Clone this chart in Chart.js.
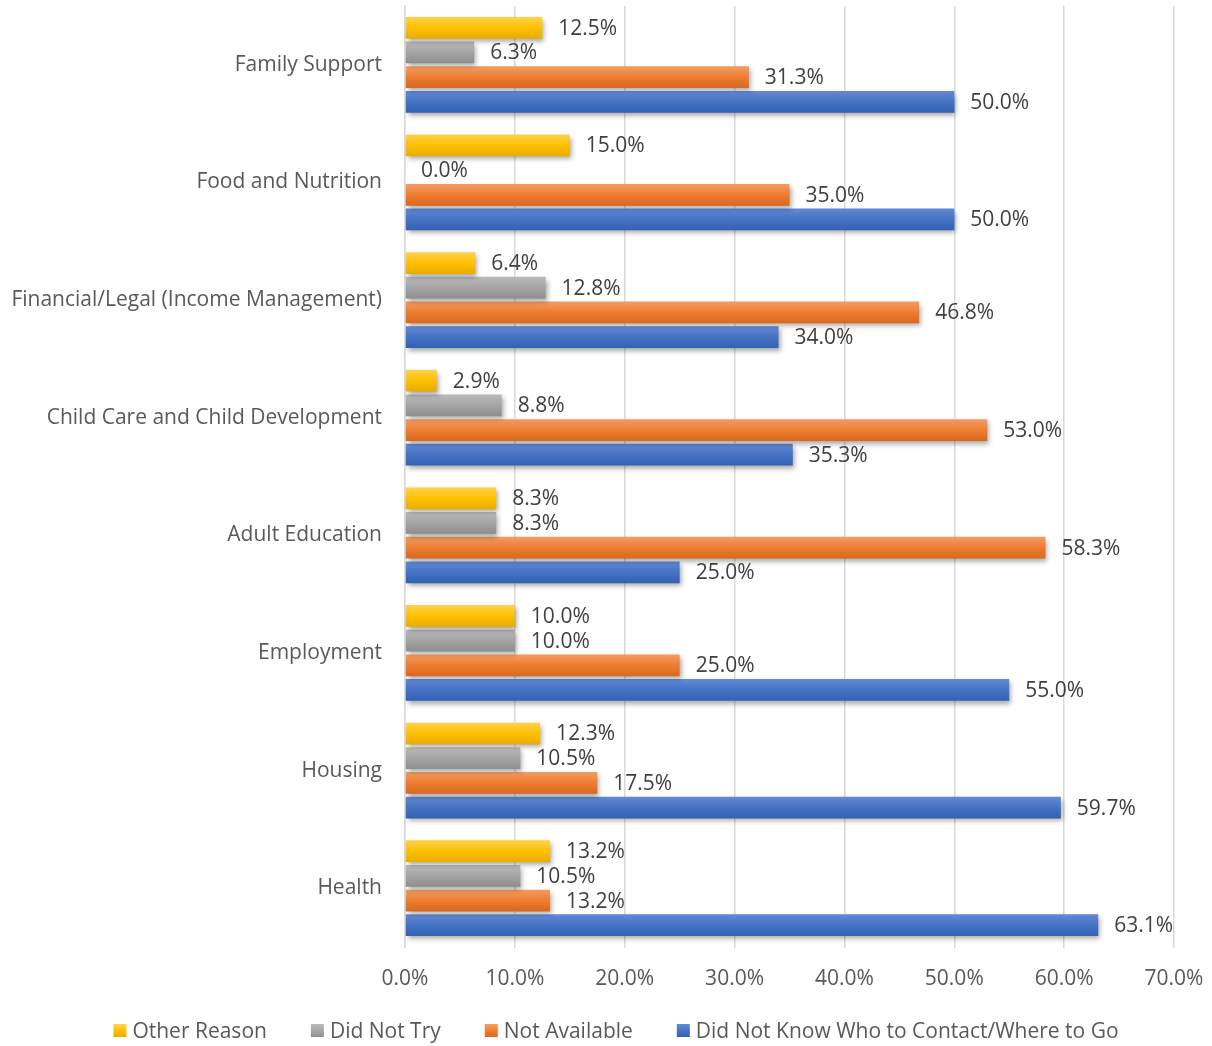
<!DOCTYPE html>
<html>
<head>
<meta charset="utf-8">
<script src="https://cdn.jsdelivr.net/npm/chart.js@4.4.1/dist/chart.umd.min.js"></script>
<style>
html,body{margin:0;padding:0;background:#fff;}
#wrap{width:1212px;height:1046px;position:relative;}
</style>
</head>
<body>
<div id="wrap"><canvas id="c" width="1212" height="1046"></canvas></div>
<script>
const categories = ["Family Support","Food and Nutrition","Financial/Legal (Income Management)","Child Care and Child Development","Adult Education","Employment","Housing","Health"];
const seriesNames = ["Other Reason","Did Not Try","Not Available","Did Not Know Who to Contact/Where to Go"];
const otherReason = [12.5,15.0,6.4,2.9,8.3,10.0,12.3,13.2];
const didNotTry = [6.3,0.0,12.8,8.8,8.3,10.0,10.5,10.5];
const notAvailable = [31.3,35.0,46.8,53.0,58.3,25.0,17.5,13.2];
const didNotKnow = [50.0,50.0,34.0,35.3,25.0,55.0,59.7,63.1];
const xTicks = [0,10,20,30,40,50,60,70];

const baseColors = ["#FFC000","#A5A5A5","#ED7D31","#4472C4"];
const gradStops = [
  ["#FFD24E","#FFC000","#E8AC00"],
  ["#BABABA","#A5A5A5","#8D8D8D"],
  ["#F49C64","#ED7D31","#D9681C"],
  ["#6489D4","#4472C4","#3260B2"]
];
const FONT = "'Open Sans', sans-serif";
const FS = 21;

function makeGrad(ctx, i, y0, y1){
  const g = ctx.createLinearGradient(0, y0, 0, y1);
  g.addColorStop(0, gradStops[i][0]);
  g.addColorStop(0.5, gradStops[i][1]);
  g.addColorStop(1, gradStops[i][2]);
  return g;
}

const gradientPlugin = {
  id:'grad',
  beforeDatasetsDraw(chart){
    const ctx = chart.ctx;
    chart.data.datasets.forEach((ds,i)=>{
      const meta = chart.getDatasetMeta(i);
      meta.data.forEach(el=>{
        const h = el.height;
        const g = makeGrad(ctx, i, el.y - h/2, el.y + h/2);
        el.options = Object.assign({}, el.options, {backgroundColor: g});
      });
    });
    ctx.save();
    ctx.shadowColor = 'rgba(0,0,0,0.35)';
    ctx.shadowBlur = 5;
    ctx.shadowOffsetX = 2;
    ctx.shadowOffsetY = 3;
  },
  afterDatasetsDraw(chart){
    chart.ctx.restore();
    const ctx = chart.ctx;
    ctx.save();
    ctx.font = FS + "px " + FONT;
    ctx.fillStyle = "#404040";
    ctx.textBaseline = "middle";
    ctx.textAlign = "left";
    chart.data.datasets.forEach((ds,i)=>{
      const meta = chart.getDatasetMeta(i);
      meta.data.forEach((el,j)=>{
        ctx.fillText(ds.data[j].toFixed(1)+"%", el.x + 16, el.y + 1);
      });
    });
    ctx.restore();
  },
  afterDraw(chart){
    // legend built from dataset labels
    const ctx = chart.ctx;
    ctx.save();
    ctx.font = FS + "px " + FONT;
    const box = 13, gap = 6, spacing = 44;
    const items = chart.data.datasets.map((ds,i)=>({text:ds.label, w:ctx.measureText(ds.label).width, i}));
    let total = 0;
    items.forEach((it,k)=>{ total += box + gap + it.w + (k<items.length-1?spacing:0); });
    let x = 616 - total/2;
    const cy = 1031;
    ctx.textBaseline = "middle";
    ctx.textAlign = "left";
    items.forEach(it=>{
      ctx.fillStyle = makeGrad(ctx, it.i, cy - box/2, cy + box/2);
      ctx.fillRect(x, cy - box/2 - 0.5, box, box);
      ctx.fillStyle = "#595959";
      ctx.fillText(it.text, x + box + gap, cy + 1);
      x += box + gap + it.w + spacing;
    });
    ctx.restore();
  }
};

const seriesData = [otherReason, didNotTry, notAvailable, didNotKnow];
new Chart(document.getElementById('c'), {
  type:'bar',
  data:{
    labels: categories,
    datasets: seriesNames.map((n,i)=>({
      label:n,
      data:seriesData[i],
      backgroundColor: baseColors[i],
      borderWidth:0,
      categoryPercentage:0.84,
      barPercentage:0.88
    }))
  },
  options:{
    indexAxis:'y',
    responsive:false,
    animation:false,
    layout:{padding:{left:0,right:38,top:6,bottom:50}},
    plugins:{
      tooltip:{enabled:false},
      legend:{display:false}
    },
    scales:{
      x:{
        min:0, max:70,
        afterBuildTicks(s){ s.ticks = xTicks.map(v=>({value:v})); },
        afterFit(s){ s.height = 49; s.paddingLeft = 0; s.paddingRight = 0; },
        ticks:{
          color:"#595959",
          font:{family:FONT,size:FS},
          padding:18,
          maxRotation:0,
          callback:(v)=>Number(v).toFixed(1)+"%"
        },
        grid:{color:"#D9D9D9", lineWidth:1.5, drawTicks:true, tickLength:1},
        border:{display:false}
      },
      y:{
        afterFit(s){ s.width = 405; s.paddingTop = 0; s.paddingBottom = 0; },
        ticks:{color:"#595959", font:{family:FONT,size:FS}, padding:23},
        grid:{display:false, drawTicks:false},
        border:{display:true, color:"#D9D9D9", width:1.5}
      }
    }
  },
  plugins:[gradientPlugin]
});
</script>
</body>
</html>
